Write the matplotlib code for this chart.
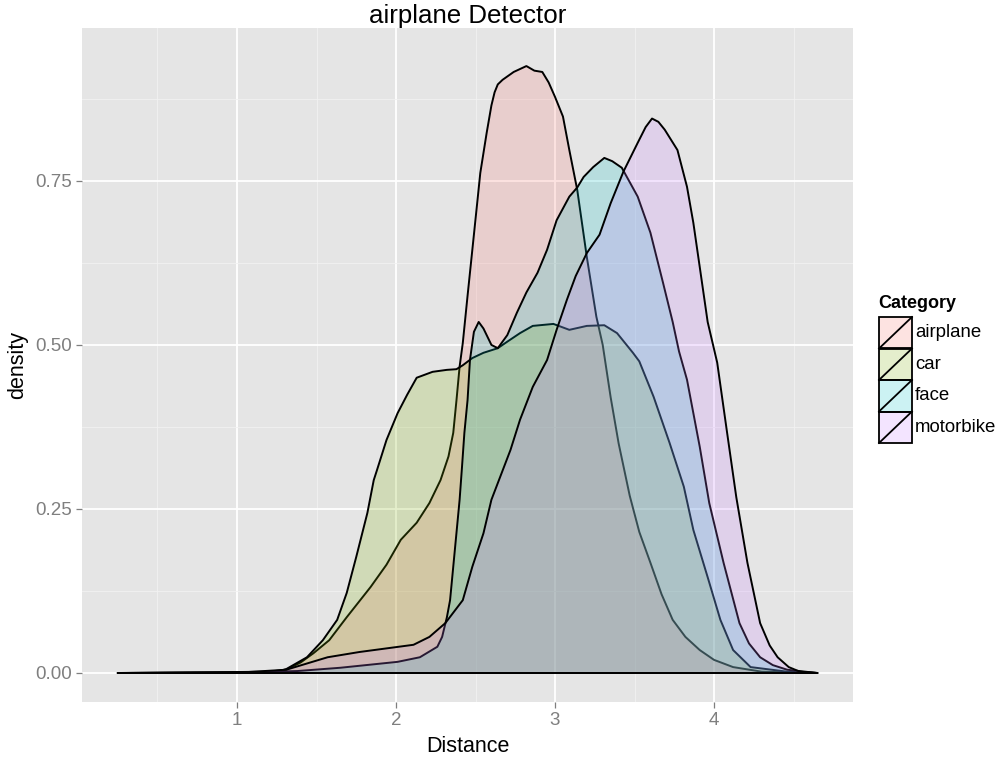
import matplotlib
matplotlib.use("Agg")
import matplotlib.pyplot as plt
from matplotlib.patches import Rectangle
from matplotlib.lines import Line2D

plt.rcParams['font.family'] = ['Liberation Sans', 'DejaVu Sans']

title = "airplane Detector"
xlabel = "Distance"
ylabel = "density"
legend_title = "Category"
categories = ["airplane", "car", "face", "motorbike"]
colors = ["#F8766D", "#7CAE00", "#00BFC4", "#C77CFF"]

airplane_x = [0.25, 0.8, 1.2, 1.31, 1.40, 1.48, 1.58, 1.69, 1.84, 1.94, 2.03, 2.13, 2.21, 2.28, 2.33, 2.36,
              2.38, 2.40, 2.42, 2.45, 2.48, 2.51, 2.53, 2.57, 2.60, 2.62, 2.64, 2.67, 2.74, 2.82, 2.87,
              2.92, 2.96, 3.00, 3.05, 3.09, 3.14, 3.20, 3.26, 3.30, 3.35, 3.40, 3.47, 3.53, 3.60, 3.67,
              3.74, 3.82, 3.91, 4.00, 4.12, 4.30, 4.65]
airplane_y = [0.0, 0.001, 0.002, 0.005, 0.016, 0.030, 0.050, 0.085, 0.131, 0.165, 0.203, 0.229, 0.259, 0.294, 0.330, 0.366,
              0.415, 0.467, 0.503, 0.575, 0.645, 0.715, 0.762, 0.823, 0.865, 0.885, 0.897, 0.904, 0.916, 0.925, 0.918,
              0.916, 0.900, 0.878, 0.848, 0.797, 0.736, 0.634, 0.543, 0.500, 0.420, 0.350, 0.270, 0.215, 0.168, 0.120,
              0.081, 0.055, 0.035, 0.020, 0.009, 0.002, 0.0]

car_x = [0.25, 1.0, 1.25, 1.31, 1.44, 1.54, 1.63, 1.69, 1.75, 1.82, 1.86, 1.88, 1.94, 2.01, 2.07, 2.13,
         2.23, 2.32, 2.38, 2.42, 2.48, 2.55, 2.64, 2.70, 2.78, 2.86, 2.99, 3.09, 3.20, 3.31, 3.39, 3.49,
         3.53, 3.62, 3.72, 3.81, 3.87, 3.96, 4.04, 4.12, 4.23, 4.46, 4.65]
car_y = [0.0, 0.001, 0.002, 0.006, 0.024, 0.050, 0.081, 0.122, 0.177, 0.244, 0.294, 0.309, 0.355, 0.396, 0.424, 0.450,
         0.459, 0.462, 0.463, 0.469, 0.480, 0.488, 0.495, 0.505, 0.518, 0.529, 0.532, 0.523, 0.529, 0.530, 0.518, 0.488,
         0.475, 0.421, 0.351, 0.284, 0.218, 0.146, 0.081, 0.035, 0.009, 0.002, 0.0]

face_x = [0.25, 1.0, 1.38, 1.65, 2.01, 2.15, 2.26, 2.29, 2.32, 2.34, 2.36, 2.38, 2.40, 2.415, 2.43, 2.45,
          2.465, 2.49, 2.52, 2.55, 2.60, 2.64, 2.70, 2.76, 2.82, 2.89, 2.95, 3.01, 3.09, 3.14, 3.18, 3.24,
          3.31, 3.36, 3.42, 3.52, 3.60, 3.68, 3.74, 3.78, 3.83, 3.91, 3.97, 4.06, 4.16, 4.22, 4.29, 4.37, 4.46, 4.65]
face_y = [0.0, 0.0005, 0.003, 0.008, 0.017, 0.024, 0.040, 0.055, 0.085, 0.111, 0.162, 0.213, 0.264, 0.314, 0.366, 0.416,
          0.477, 0.520, 0.535, 0.525, 0.500, 0.495, 0.515, 0.549, 0.580, 0.610, 0.645, 0.690, 0.726, 0.740, 0.756, 0.771,
          0.785, 0.780, 0.770, 0.726, 0.671, 0.594, 0.535, 0.490, 0.447, 0.345, 0.259, 0.168, 0.076, 0.045, 0.024, 0.012, 0.005, 0.0]

motorbike_x = [0.25, 1.0, 1.31, 1.57, 1.77, 2.11, 2.21, 2.31, 2.42, 2.48, 2.55, 2.60, 2.72, 2.78, 2.86, 2.95,
               3.01, 3.075, 3.13, 3.20, 3.28, 3.35, 3.43, 3.52, 3.57, 3.61, 3.65, 3.69, 3.77, 3.83, 3.87, 3.91,
               3.96, 4.02, 4.08, 4.14, 4.21, 4.29, 4.35, 4.40, 4.47, 4.54, 4.65]
motorbike_y = [0.0, 0.0005, 0.005, 0.024, 0.032, 0.043, 0.055, 0.076, 0.111, 0.162, 0.213, 0.264, 0.340, 0.386, 0.436, 0.477,
               0.523, 0.569, 0.605, 0.640, 0.668, 0.716, 0.764, 0.808, 0.832, 0.845, 0.840, 0.828, 0.797, 0.741, 0.686, 0.619,
               0.535, 0.473, 0.370, 0.268, 0.168, 0.076, 0.042, 0.024, 0.009, 0.002, 0.0]

series = [(airplane_x, airplane_y), (car_x, car_y), (face_x, face_y), (motorbike_x, motorbike_y)]

xticks = [1, 2, 3, 4]
yticks = [0.0, 0.25, 0.5, 0.75]
ytick_labels = ["0.00", "0.25", "0.50", "0.75"]

W, H = 1000, 759
fig = plt.figure(figsize=(W / 100, H / 100), dpi=100)
ax = fig.add_axes([82 / W, 1 - 702 / H, (853 - 82) / W, (702 - 28) / H])
ax.set_facecolor("#E5E5E5")

for (xs, ys), c in zip(series, colors):
    ax.fill(xs, ys, facecolor=matplotlib.colors.to_rgba(c, 0.2), edgecolor="black", linewidth=1.4,
            joinstyle="round")

ax.set_xlim(0.0252, 4.874)
ax.set_ylim(-0.0442, 0.983)

ax.set_xticks(xticks)
ax.set_xticklabels([str(v) for v in xticks])
ax.set_yticks(yticks)
ax.set_yticklabels(ytick_labels)
ax.set_xticks([0.5, 1.5, 2.5, 3.5, 4.5], minor=True)
ax.set_yticks([0.125, 0.375, 0.625, 0.875], minor=True)
ax.grid(which="major", color="white", linewidth=1.3)
ax.grid(which="minor", color="#F2F2F2", linewidth=0.6)
ax.set_axisbelow(True)
for s in ax.spines.values():
    s.set_visible(False)
ax.tick_params(which="major", length=4, width=0.9, color="#7F7F7F", labelcolor="#7F7F7F",
               labelsize=13.5, pad=3)
ax.tick_params(which="minor", length=0)

ax.set_xlabel(xlabel, fontsize=15.5, labelpad=5)
ax.set_ylabel(ylabel, fontsize=15.5, labelpad=5)
ax.set_title(title, fontsize=18.6, pad=1.5)

# legend (drawn manually, ggplot style)
fig.text(878 / W, 1 - 303 / H, legend_title, fontsize=13, fontweight="bold", ha="left", va="center")
key_left, key_w, key_top, key_h = 879, 33, 317, 31.5
for i, (cat, c) in enumerate(zip(categories, colors)):
    top = key_top + i * key_h
    rect = Rectangle((key_left / W, 1 - (top + key_h) / H), key_w / W, key_h / H,
                     transform=fig.transFigure, facecolor=matplotlib.colors.to_rgba(c, 0.2),
                     edgecolor="black", linewidth=1.3)
    fig.patches.append(rect)
    fig.lines.append(Line2D([key_left / W, (key_left + key_w) / W],
                            [1 - (top + key_h) / H, 1 - top / H],
                            transform=fig.transFigure, color="black", linewidth=1.3))
    fig.text(915 / W, 1 - (top + key_h / 2) / H, cat, fontsize=13.4, ha="left", va="center")

fig.savefig("out.png", dpi=100)
